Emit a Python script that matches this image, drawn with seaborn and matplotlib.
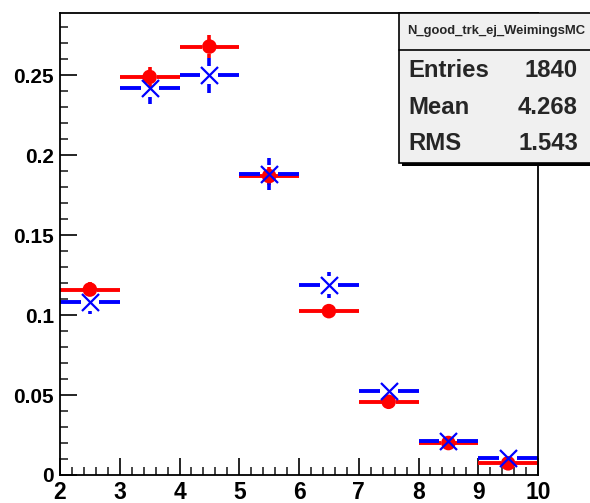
import numpy as np
import pandas as pd
import matplotlib
matplotlib.use("Agg")
import matplotlib.pyplot as plt
import seaborn as sns
from matplotlib import font_manager as fm
from matplotlib.patches import Rectangle
from matplotlib.ticker import MultipleLocator

# Bin centres of N_good_trk histogram (unit-width bins)
bin_centers = [2.5, 3.5, 4.5, 5.5, 6.5, 7.5, 8.5, 9.5]

# Normalised contents and uncertainties
data_vals = [0.116, 0.249, 0.268, 0.187, 0.1025, 0.0458, 0.0200, 0.0073]
data_errs = [0.0045, 0.0065, 0.0073, 0.0055, 0.0045, 0.0030, 0.0020, 0.0012]
mc_vals = [0.1083, 0.242, 0.250, 0.188, 0.1188, 0.0525, 0.0213, 0.0106]
mc_errs = [0.0078, 0.0100, 0.0110, 0.0100, 0.0080, 0.0050, 0.0030, 0.0020]

stats_title = "N_good_trk_ej_WeimingsMC"
stats_rows = [("Entries", "1840"), ("Mean", "4.268"), ("RMS", "1.543")]

sns.set_style("ticks")
bold_path = fm.findfont(fm.FontProperties(family="Liberation Sans", weight="bold"))


def bold(size):
    return fm.FontProperties(fname=bold_path, size=size)


df = pd.DataFrame({
    "x": bin_centers * 2,
    "y": data_vals + mc_vals,
    "err": data_errs + mc_errs,
    "sample": ["data"] * len(bin_centers) + ["mc"] * len(bin_centers),
})

fig = plt.figure(figsize=(5.9, 5.03), dpi=100)
ax = fig.add_axes([60 / 590, 28 / 503, 478 / 590, 462 / 503])
ax.set_xlim(2, 10)
ax.set_ylim(0, 0.289)

# pixel -> data conversion for the marker gap left open in the error bars
px_x = (10 - 2) / 478
px_y = 0.289 / 462

styles = {
    "data": dict(color="#ff0000", marker="o", size=110, lw=0, gap=7),
    "mc": dict(color="#0000ff", marker="x", size=150, lw=1.6, gap=9),
}
for name in ["data", "mc"]:
    sub = df[df["sample"] == name]
    st = styles[name]
    gx = st["gap"] * px_x
    gy = st["gap"] * px_y
    x = sub["x"].to_numpy()
    y = sub["y"].to_numpy()
    e = sub["err"].to_numpy()
    # horizontal bin-width bars, split around the marker
    ax.hlines(y, x - 0.5, x - gx, color=st["color"], lw=2.8, zorder=2)
    ax.hlines(y, x + gx, x + 0.5, color=st["color"], lw=2.8, zorder=2)
    # vertical statistical error bars, split around the marker
    up = np.maximum(e, gy)
    ax.vlines(x, y + gy, y + up, color=st["color"], lw=2.6, zorder=2)
    ax.vlines(x, y - up, y - gy, color=st["color"], lw=2.6, zorder=2)
    sns.scatterplot(data=sub, x="x", y="y", ax=ax, color=st["color"],
                    marker=st["marker"], s=st["size"], linewidth=st["lw"],
                    edgecolor=st["color"] if name == "mc" else "none",
                    legend=False, zorder=3)

ax.set_xlim(2, 10)
ax.set_ylim(0, 0.289)
ax.set_xlabel("")
ax.set_ylabel("")

ax.xaxis.set_minor_locator(MultipleLocator(0.2))
ax.yaxis.set_minor_locator(MultipleLocator(0.01))
ax.set_yticks([0, 0.05, 0.1, 0.15, 0.2, 0.25])
ax.set_yticklabels(["0", "0.05", "0.1", "0.15", "0.2", "0.25"], fontproperties=bold(15))
ax.set_xticks(range(2, 11))
ax.set_xticklabels([str(v) for v in range(2, 11)], fontproperties=bold(16.5))
ax.tick_params(axis="both", which="major", direction="in", length=12, width=1.2,
               colors="black")
ax.tick_params(axis="both", which="minor", direction="in", length=6, width=1.2)
ax.tick_params(axis="y", which="major", pad=4.5)
ax.tick_params(axis="x", which="major", pad=4)
for sp in ax.spines.values():
    sp.set_linewidth(1.3)
    sp.set_color("black")

# Statistics box in the upper right corner
def fx(px):
    return px / 590

def fy(py):
    return 1 - py / 503

bx0, bx1, by0, by1 = 399, 594, 13, 163
fig.patches.append(Rectangle((fx(bx0 + 3), fy(by1 + 3)), fx(bx1 - bx0), fy(by0) - fy(by1),
                             transform=fig.transFigure, facecolor="black",
                             edgecolor="none", zorder=10))
fig.patches.append(Rectangle((fx(bx0), fy(by1)), fx(bx1 - bx0), fy(by0) - fy(by1),
                             transform=fig.transFigure, facecolor="#f0f0f0",
                             edgecolor="black", linewidth=1.2, zorder=11))
fig.add_artist(plt.Line2D([fx(bx0), fx(bx1)], [fy(50), fy(50)],
                          transform=fig.transFigure, color="black", lw=1.2, zorder=12))
fig.text(fx(496), fy(31), stats_title, ha="center", va="center",
         fontproperties=bold(9.4), zorder=13)
for i, (k, v) in enumerate(stats_rows):
    yy = fy(77 + 36.5 * i)
    fig.text(fx(408), yy, k, ha="left", va="baseline", fontproperties=bold(17.2), zorder=13)
    fig.text(fx(578), yy, v, ha="right", va="baseline", fontproperties=bold(17.2), zorder=13)

fig.savefig("out.png", dpi=100)
